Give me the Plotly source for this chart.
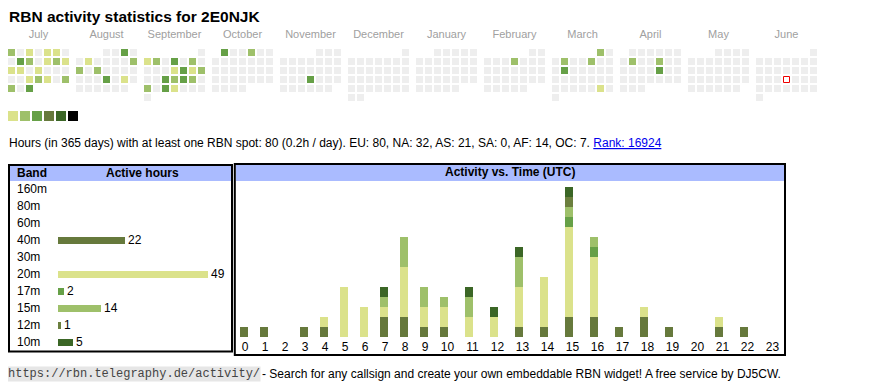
import datetime as dt
import plotly.graph_objects as go

# page body has an 8px margin, so the figure is sized to fill the rest of the window
OX, OY = 8, 8
FW, FH = 870 - OX, 390 - OY
SANS = "Liberation Sans, Arial, sans-serif"
MONO = "Liberation Mono, Courier New, monospace"

# ---------------- data ----------------
callsign = "2E0NJK"
month_names = ["July", "August", "September", "October", "November", "December",
               "January", "February", "March", "April", "May", "June"]
month_years = [2024, 2024, 2024, 2024, 2024, 2024, 2025, 2025, 2025, 2025, 2025, 2025]
month_numbers = [7, 8, 9, 10, 11, 12, 1, 2, 3, 4, 5, 6]

active_dates = [
    "2024-07-01", "2024-07-03", "2024-07-05", "2024-07-06", "2024-07-09", "2024-07-10",
    "2024-07-12", "2024-07-13", "2024-07-14", "2024-07-15", "2024-07-16", "2024-07-18",
    "2024-07-24", "2024-07-25", "2024-07-26", "2024-07-28", "2024-07-29", "2024-07-31",
    "2024-08-03", "2024-08-06", "2024-08-11", "2024-08-12", "2024-08-14", "2024-08-22",
    "2024-08-24",
    "2024-09-02", "2024-09-03", "2024-09-05", "2024-09-07", "2024-09-12", "2024-09-13",
    "2024-09-14", "2024-09-15", "2024-09-18", "2024-09-19", "2024-09-20", "2024-09-21",
    "2024-09-23", "2024-09-25", "2024-09-26",
    "2024-10-01", "2024-10-04",
    "2024-11-21",
    "2025-02-06",
    "2025-03-01", "2025-03-04", "2025-03-07", "2025-03-11", "2025-03-29",
    "2025-04-08", "2025-04-11", "2025-04-18",
]
active_levels = [
    2, 1, 1, 1, 3, 2,
    1, 2, 1, 1, 1, 1,
    1, 2, 1, 2, 2, 3,
    3, 1, 2, 2, 2, 3,
    1,
    1, 2, 3, 2, 1, 3,
    1, 2, 3, 2, 3, 2,
    2, 3, 1,
    3, 2,
    3,
    2,
    2, 2, 2, 3, 1,
    2, 2, 3,
]
today = "2025-06-19"

level_colors = ["#dbe28b", "#9ec06a", "#66a047", "#66793c", "#3b6626", "#000000"]
empty_color = "#eeeeee"

summary_text = ("Hours (in 365 days) with at least one RBN spot: 80 (0.2h / day). "
                "EU: 80, NA: 32, AS: 21, SA: 0, AF: 14, OC: 7. ")
rank_text = "Rank: 16924"

bands = ["160m", "80m", "60m", "40m", "30m", "20m", "17m", "15m", "12m", "10m"]
band_hours = [0, 0, 0, 22, 0, 49, 2, 14, 1, 5]
band_colors = ["#444444", "#888888", "#aaaaaa", "#66793c", "#bbbbbb",
               "#dbe28b", "#66a047", "#9ec06a", "#6b7f3e", "#3b6626"]

hours = [str(h) for h in range(24)]
hourly = {
    "40m": [1, 1, 0, 1, 1, 0, 0, 2, 2, 1, 1, 0, 0, 1, 1, 2, 2, 1, 2, 1, 0, 1, 1, 0],
    "20m": [0, 0, 0, 0, 1, 5, 3, 1, 5, 2, 2, 2, 2, 4, 5, 9, 6, 0, 1, 0, 0, 1, 0, 0],
    "17m": [0, 0, 0, 0, 0, 0, 0, 0, 0, 0, 0, 0, 0, 0, 0, 1, 1, 0, 0, 0, 0, 0, 0, 0],
    "15m": [0, 0, 0, 0, 0, 0, 0, 1, 3, 2, 1, 2, 0, 3, 0, 1, 1, 0, 0, 0, 0, 0, 0, 0],
    "12m": [0, 0, 0, 0, 0, 0, 0, 0, 0, 0, 0, 0, 0, 0, 0, 1, 0, 0, 0, 0, 0, 0, 0, 0],
    "10m": [0, 0, 0, 0, 0, 0, 0, 1, 0, 0, 0, 1, 1, 1, 0, 1, 0, 0, 0, 0, 0, 0, 0, 0],
}


# ---------------- layout helpers (window pixel -> paper) ----------------
def px(x):
    return (x - OX) / FW


def py(y):
    return 1 - (y - OY) / FH


fig = go.Figure()

# ---------------- calendar ----------------
CAL_X0, CAL_Y0, PITCH, BLOCK = 8, 49, 9, 68
CELL = 7
level_of = dict(zip(active_dates, active_levels))
cx, cy, cc = [], [], []
today_pos = None
for m, (yr, mo) in enumerate(zip(month_years, month_numbers)):
    first = dt.date(yr, mo, 1)
    nxt = dt.date(yr + (mo == 12), mo % 12 + 1, 1)
    ndays = (nxt - first).days
    wd = first.weekday()
    for d in range(1, ndays + 1):
        idx = wd + d - 1
        row, col = divmod(idx, 7)
        x = CAL_X0 + m * BLOCK + col * PITCH + CELL / 2
        y = CAL_Y0 + row * PITCH + CELL / 2
        key = dt.date(yr, mo, d).isoformat()
        if key == today:
            today_pos = (x, y)
            continue
        lv = level_of.get(key)
        cx.append(x)
        cy.append(y)
        cc.append(level_colors[lv - 1] if lv else empty_color)

fig.add_trace(go.Scatter(x=cx, y=cy, mode="markers", xaxis="x", yaxis="y",
                         marker=dict(symbol="square", size=CELL, color=cc, line=dict(width=0)),
                         hoverinfo="skip", showlegend=False))
if today_pos:
    fig.add_trace(go.Scatter(x=[today_pos[0]], y=[today_pos[1]], mode="markers",
                             xaxis="x", yaxis="y",
                             marker=dict(symbol="square", size=CELL - 1, color="#ffffff",
                                         line=dict(width=1, color="#ee0000")),
                             hoverinfo="skip", showlegend=False))

# month labels
fig.add_trace(go.Scatter(
    x=[CAL_X0 + m * BLOCK + (7 * PITCH - 2) / 2 for m in range(len(month_names))],
    y=[35] * len(month_names), mode="text", text=month_names,
    textfont=dict(family=SANS, size=11, color="#a0a0a0"),
    xaxis="x", yaxis="y", hoverinfo="skip", showlegend=False))

# legend squares
fig.add_trace(go.Scatter(
    x=[13 + 12 * i for i in range(len(level_colors))], y=[116] * len(level_colors),
    mode="markers", marker=dict(symbol="square", size=10, color=level_colors, line=dict(width=0)),
    xaxis="x", yaxis="y", hoverinfo="skip", showlegend=False))

# ---------------- band table ----------------
fig.add_trace(go.Bar(
    x=band_hours, y=list(range(len(bands))), orientation="h",
    marker=dict(color=band_colors, line=dict(width=0)), width=0.41,
    text=[str(v) if v else "" for v in band_hours], textposition="outside",
    constraintext="none", cliponaxis=False,
    textfont=dict(family=SANS, size=12, color="#000000"),
    xaxis="x2", yaxis="y2", hoverinfo="skip", showlegend=False))

# ---------------- activity vs time ----------------
col_w = [20 if len(h) == 1 else 25 for h in hours]
starts = []
acc = 235
for w in col_w:
    starts.append(acc)
    acc += w
bar_x = [s + 9 for s in starts]
label_x = [s + w / 2 for s, w in zip(starts, col_w)]

for b, col in zip(bands, band_colors):
    if b in hourly:
        fig.add_trace(go.Bar(x=bar_x, y=hourly[b], width=8,
                             marker=dict(color=col, line=dict(width=0)),
                             xaxis="x3", yaxis="y3", hoverinfo="skip", showlegend=False))

BASE, TOP = 337, 181
fig.update_layout(
    width=FW, height=FH, margin=dict(l=0, r=0, t=0, b=0),
    paper_bgcolor="white", plot_bgcolor="rgba(0,0,0,0)",
    barmode="stack", bargap=0,
    xaxis=dict(domain=[0, 1], range=[OX, OX + FW], visible=False, fixedrange=True),
    yaxis=dict(domain=[0, 1], range=[OY + FH, OY], visible=False, fixedrange=True),
    xaxis2=dict(domain=[px(58), px(58 + 150)], range=[0, max(band_hours)], visible=False,
                anchor="y2", fixedrange=True),
    yaxis2=dict(domain=[py(350.5), py(180.5)], range=[len(bands) - 0.5, -0.5], visible=False,
                anchor="x2", fixedrange=True),
    xaxis3=dict(domain=[0, 1], range=[OX, OX + FW], anchor="y3", tickmode="array",
                tickvals=label_x, ticktext=hours, showgrid=False, zeroline=False,
                showline=False, ticks="", ticklabelstandoff=1,
                tickfont=dict(family=SANS, size=12, color="#000"), fixedrange=True),
    yaxis3=dict(domain=[py(BASE), py(TOP)], range=[0, (BASE - TOP) / 10], visible=False,
                anchor="x3", fixedrange=True),
    font=dict(family=SANS, color="#000"),
)

# table boxes and headers
shapes = [
    dict(type="rect", xref="paper", yref="paper", x0=px(10), x1=px(231), y0=py(181), y1=py(166),
         fillcolor="#aabbff", line=dict(width=0), layer="below"),
    dict(type="rect", xref="paper", yref="paper", x0=px(236), x1=px(784), y0=py(181), y1=py(165),
         fillcolor="#aabbff", line=dict(width=0), layer="below"),
    dict(type="rect", xref="paper", yref="paper", x0=px(9), x1=px(232), y0=py(351.5), y1=py(165),
         line=dict(width=2, color="#000"), fillcolor="rgba(0,0,0,0)"),
    dict(type="rect", xref="paper", yref="paper", x0=px(234.8), x1=px(785), y0=py(355), y1=py(164),
         line=dict(width=2, color="#000"), fillcolor="rgba(0,0,0,0)"),
]
fig.update_layout(shapes=shapes)

ann = []


def text(x, y, s, size=12, bold=False, color="#000", xanchor="left", family=SANS, **kw):
    ann.append(dict(x=px(x), y=py(y), xref="paper", yref="paper", text=(f"<b>{s}</b>" if bold else s),
                    showarrow=False, xanchor=xanchor, yanchor="middle", borderpad=0,
                    font=dict(family=family, size=size, color=color), **kw))


text(7.5, 16, f"RBN activity statistics for {callsign}", size=15.5, bold=True)
text(7.5, 143, summary_text + '<a href="https://rbn.telegraphy.de/activity/rank">'
     f'<span style="color:#0000ee;text-decoration:underline">{rank_text}</span></a>')
text(15.5, 173, "Band", bold=True)
text(142, 173, "Active hours", bold=True, xanchor="center")
text(510, 172.5, "Activity vs. Time (UTC)", bold=True, xanchor="center")
for i, b in enumerate(bands):
    ann.append(dict(x=px(15.5), y=i, xref="paper", yref="y2", text=b, showarrow=False,
                    xanchor="left", yanchor="middle", borderpad=0,
                    font=dict(family=SANS, size=12, color="#000")))
text(7, 374, "https://rbn.telegraphy.de/activity/", size=12, family=MONO, color="#444",
     bgcolor="#e6e6e6")
text(261, 374, "- Search for any callsign and create your own embeddable RBN widget! "
     "A free service by DJ5CW.")
fig.update_layout(annotations=ann)

fig.write_html("out.html")
